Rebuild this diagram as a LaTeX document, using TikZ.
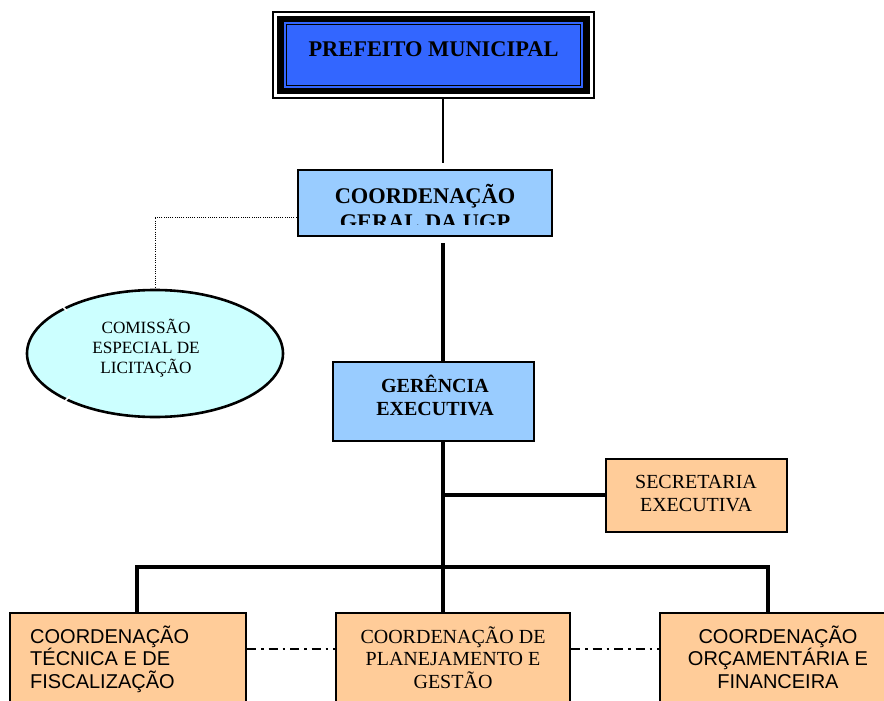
\documentclass[tikz,border=0pt]{standalone}
\usepackage{fontspec}
\setmainfont{Liberation Serif}
\newfontfamily\sansf{Liberation Sans}
\usetikzlibrary{shapes.geometric}
\definecolor{pmblue}{HTML}{3366FF}
\definecolor{lblue}{HTML}{99CCFF}
\definecolor{peach}{HTML}{FFCC99}
\definecolor{lcyan}{HTML}{CCFFFF}
\tikzset{
  boxblue/.style={draw, line width=2.8pt, fill=lblue, inner sep=0pt},
  boxpeach/.style={draw, line width=2pt, fill=peach, inner sep=0pt},
  txt/.style={anchor=base, inner sep=0pt},
  conn/.style={line width=3.2pt},
  thinconn/.style={line width=1.6pt},
  dotconn/.style={line width=1pt, dash pattern=on 1pt off 1.2pt},
  dashdot/.style={line width=1.1pt, dash pattern=on 9pt off 5pt on 2.5pt off 5pt},
  bfont/.style={font=\bfseries\fontsize{22.4}{25}\selectfont},
  gfont/.style={font=\bfseries\fontsize{20}{23}\selectfont},
  rfont/.style={font=\fontsize{20}{23}\selectfont},
  efont/.style={font=\fontsize{17.2}{20}\selectfont},
  sfont/.style={font=\sansf\fontsize{20}{23}\selectfont},
}
\begin{document}
\begin{tikzpicture}[x=1pt,y=-1pt]
\useasboundingbox (0,0) rectangle (884,701);
\clip (0,0) rectangle (884,701);

% ---- Prefeito Municipal ----
\node[draw, line width=1.2pt, minimum width=321pt, minimum height=86pt, inner sep=0pt] (pm) at (433.5,55) {};
\fill[black] ([shift={(4.5,4.5)}]pm.north west) rectangle ([shift={(-4.5,-4.5)}]pm.south east);
\fill[pmblue] ([shift={(11.5,11)}]pm.north west) rectangle ([shift={(-11.5,-11)}]pm.south east);
\draw[line width=1.2pt] ([shift={(13.8,13.3)}]pm.north west) rectangle ([shift={(-13.8,-13.3)}]pm.south east);
\node[txt, bfont] (pmt) at (433.5,57) {PREFEITO MUNICIPAL};

% ---- Coordenação Geral ----
\node[boxblue, minimum width=254pt, minimum height=66pt] (cg) at (425,203) {};
\begin{scope}
  \clip ([shift={(2,2)}]cg.north west) rectangle (cg.east |- 0,224);
  \node[txt, bfont] (cgt1) at (425,203) {COORDENAÇÃO};
  \node[txt, bfont] (cgt2) at (425,229) {GERAL DA UGP};
\end{scope}

% ---- Comissão ----
\node[ellipse, draw, line width=2.6pt, fill=lcyan, minimum width=256pt, minimum height=127pt, inner sep=0pt] (el) at (155,353.5) {};
\draw[white, line width=1.5pt] (62,306) -- (67,311);
\draw[white, line width=1.5pt] (65,401) -- (70,396);
\node[txt, efont] (elt1) at (146,333) {COMISSÃO};
\node[txt, efont] (elt2) at (146,353.5) {ESPECIAL DE};
\node[txt, efont] (elt3) at (146,373.5) {LICITAÇÃO};

% ---- Gerência ----
\node[boxblue, minimum width=201pt, minimum height=79pt] (ge) at (433.5,401.5) {};
\node[txt, gfont] (get1) at (435,392) {GERÊNCIA};
\node[txt, gfont] (get2) at (435,415) {EXECUTIVA};

% ---- Secretaria ----
\node[boxpeach, minimum width=181pt, minimum height=73pt] (se) at (696.5,495.5) {};
\node[txt, rfont] (set1) at (696,488) {SECRETARIA};
\node[txt, rfont] (set2) at (696,511) {EXECUTIVA};

% ---- Bottom boxes ----
\node[boxpeach, minimum width=236pt, minimum height=107pt] (b1) at (128,666.5) {};
\node[boxpeach, minimum width=234pt, minimum height=107pt] (b2) at (453,666.5) {};
\node[boxpeach, minimum width=240pt, minimum height=107pt] (b3) at (780,666.5) {};

\node[txt, sfont, anchor=base west] (b1t1) at (30,643) {COORDENAÇÃO};
\node[txt, sfont, anchor=base west] (b1t2) at (30,665.5) {TÉCNICA E DE};
\node[txt, sfont, anchor=base west] (b1t3) at (30,688) {FISCALIZAÇÃO};

\node[txt, rfont] (b2t1) at (453,643) {COORDENAÇÃO DE};
\node[txt, rfont] (b2t2) at (453,665.5) {PLANEJAMENTO E};
\node[txt, rfont] (b2t3) at (453,688) {GESTÃO};

\node[txt, sfont] (b3t1) at (778,643) {COORDENAÇÃO};
\node[txt, sfont] (b3t2) at (778,665.5) {ORÇAMENTÁRIA E};
\node[txt, sfont] (b3t3) at (778,688) {FINANCEIRA};

% ---- Connectors ----
\coordinate (x443) at (443,0);
\coordinate (pmend) at (443,163);
\coordinate (cgstart) at (443,243);
\coordinate (dcorner) at (155,217);
\coordinate (dend) at (155,288);
\coordinate (jse) at (443,495);
\coordinate (jbar) at (443,567);
\coordinate (barL) at (137,567);
\coordinate (barR) at (768,567);

\draw[thinconn] (pm.south -| x443) -- (pmend);
\draw[conn] (cgstart) -- (ge.north -| x443);
\draw[dotconn] (cg.west |- dcorner) -- (dcorner) -- (dend);
\draw[conn] (ge.south -| x443) -- (jbar);
\draw[conn] (jse) -- (se.west |- jse);
\draw[conn, line cap=rect] (barL) -- (barR);
\draw[conn] (barL) -- (b1.north -| barL);
\draw[conn] (jbar) -- (b2.north -| jbar);
\draw[conn] (barR) -- (b3.north -| barR);
\draw[dashdot] (b1.east |- 0,649) -- (b2.west |- 0,649);
\draw[dashdot] (b2.east |- 0,649) -- (b3.west |- 0,649);
\end{tikzpicture}
\end{document}
